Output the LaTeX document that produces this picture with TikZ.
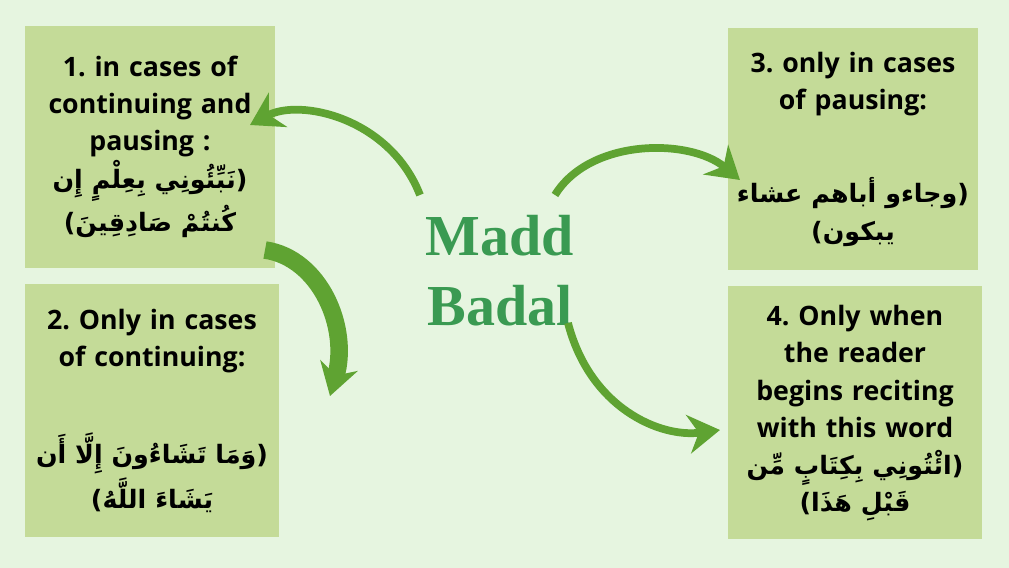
\documentclass[tikz,border=0pt]{standalone}
\usepackage{fontspec}
\setmainfont{Open Sans}
\newfontfamily\arabicfont[Script=Arabic]{DejaVu Sans}
\newfontfamily\titlefont{Liberation Serif}
\usepackage{tikz}
\usetikzlibrary{positioning, calc, arrows.meta}
\TeXXeTstate=1
\frenchspacing
\newcommand{\ar}[1]{\mbox{\fontsize{7.2}{10}\selectfont\arabicfont\beginR #1\endR}}
\definecolor{bgGreen}{HTML}{E6F5E0}
\definecolor{boxGreen}{HTML}{C4DB98}
\definecolor{titleGreen}{HTML}{3A9A52}
\definecolor{arrowGreen}{HTML}{5FA332}
\tikzset{
  case/.style={fill=boxGreen, minimum width=2.5cm, minimum height=2.42cm, align=center,
    text width=2.42cm, font=\fontsize{7.6}{10.6}\selectfont\bfseries, inner sep=0pt},
  curvy/.style={draw=arrowGreen, line width=2.2pt, -{Stealth[length=9pt,width=11pt]}}
}
\begin{document}
\begin{tikzpicture}
      \fill[bgGreen] (0,0) rectangle (10.09,5.68);
      \useasboundingbox (0,0) rectangle (10.09,5.68);

      \node[case] (C1) at (1.50,4.21) {1. in cases of\\ \mbox{continuing and}\\ pausing :\\ \ar{(نَبِّئُونِي بِعِلْمٍ إِن}\\ \ar{كُنتُمْ صَادِقِينَ)}};
      \node[case, minimum width=2.54cm, minimum height=2.53cm] (C2) at (1.52,1.57) {2. Only in cases of continuing:\\[16pt] \ar{(وَمَا تَشَاءُونَ إِلَّا أَن}\\ \ar{يَشَاءَ اللَّهُ)}};
      \node[case] (C3) at (8.53,4.19) {3. only in cases of pausing:\\[16pt] \ar{(وجاءو أباهم عشاء}\\ \ar{يبكون)}};
      \node[case, minimum width=2.54cm, minimum height=2.53cm] (C4) at (8.55,1.55) {4. Only when the reader begins reciting with this word\\ \ar{(ائْتُونِي بِكِتَابٍ مِّن}\\ \ar{قَبْلِ هَذَا)}};

      \node[font=\fontsize{16.5}{20}\selectfont\titlefont\bfseries, text=titleGreen, align=center] (MB) at (5.00,2.97) {Madd\\Badal};

      \coordinate (A1s) at (4.20,3.73);
      \coordinate (A1e) at (2.50,4.43);
      \coordinate (A2s) at (2.65,3.18);
      \coordinate (A2e) at (3.30,1.72);
      \coordinate (A3s) at (5.55,3.73);
      \coordinate (A3e) at (7.40,3.88);
      \coordinate (A4s) at (5.68,2.45);
      \coordinate (A4e) at (7.20,1.38);

      \draw[curvy] (A1s) .. controls (3.90,4.50) and (3.00,4.70) .. (A1e);
      \draw[curvy, line width=5pt] (A2s) .. controls (3.20,3.10) and (3.50,2.40) .. (A2e);
      \draw[curvy] (A3s) .. controls (5.90,4.30) and (6.90,4.30) .. (A3e);
      \draw[curvy] (A4s) .. controls (5.90,1.60) and (6.60,1.30) .. (A4e);
\end{tikzpicture}
\end{document}
